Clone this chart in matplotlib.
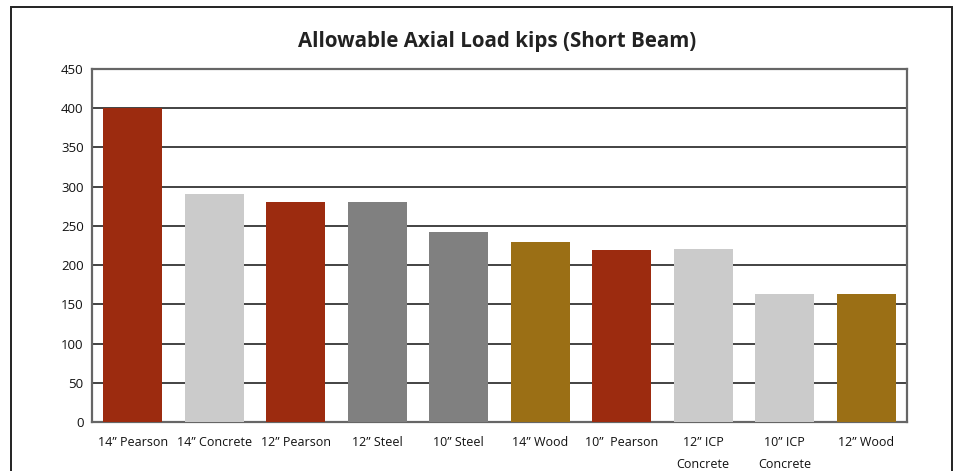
import matplotlib.pyplot as plt
from matplotlib.patches import Rectangle

# data
categories = ["14\u201d Pearson", "14\u201d Concrete", "12\u201d Pearson", "12\u201d Steel",
              "10\u201d Steel", "14\u201d Wood", "10\u201d  Pearson", "12\u201d ICP\nConcrete",
              "10\u201d ICP\nConcrete", "12\u201d Wood"]
loads = [400, 291, 280, 280, 242, 230, 219, 221, 163, 163]
materials = ["pearson", "concrete", "pearson", "steel", "steel",
             "wood", "pearson", "concrete", "concrete", "wood"]
y_ticks = [0, 50, 100, 150, 200, 250, 300, 350, 400, 450]

colours = {"pearson": "#9c2b0f", "concrete": "#cbcbcb",
           "steel": "#808080", "wood": "#9b6f15"}

plt.rcParams['font.family'] = ['Open Sans', 'DejaVu Sans']

W, H = 957, 471
fig = plt.figure(figsize=(W / 100, H / 100), dpi=100)
ax = fig.add_axes([92 / W, 1 - 422 / H, (907 - 92) / W, (422 - 69) / H])

# outer frame around the whole chart (runs off the bottom)
fig.patches.append(Rectangle((11 / W, -0.1), (952 - 11) / W, 1.1 - 7 / H,
                             transform=fig.transFigure, fill=False,
                             edgecolor='#222222', linewidth=1.4))

x = range(len(categories))
ax.bar(x, loads, width=0.725, color=[colours[m] for m in materials], zorder=3)

ax.set_xlim(-0.5, len(categories) - 0.5)
ax.set_ylim(0, 450)
ax.set_yticks(y_ticks)
ax.set_xticks(list(x))
ax.set_xticklabels(categories, fontsize=9, linespacing=1.9, va='top')
ax.tick_params(axis='both', length=0, labelsize=9.5, colors='#111111')
ax.tick_params(axis='x', pad=10, labelsize=9)
ax.tick_params(axis='y', pad=6)

ax.grid(axis='y', color='#222222', linewidth=1.2, zorder=1)
for s in ax.spines.values():
    s.set_color('#666666')
    s.set_linewidth(1.6)

fig.text(497 / W, 1 - 41 / H, "Allowable Axial Load kips (Short Beam)",
         ha='center', va='center', fontsize=14.8, fontweight='bold', color='#222222')

fig.savefig("out.png", dpi=100)
